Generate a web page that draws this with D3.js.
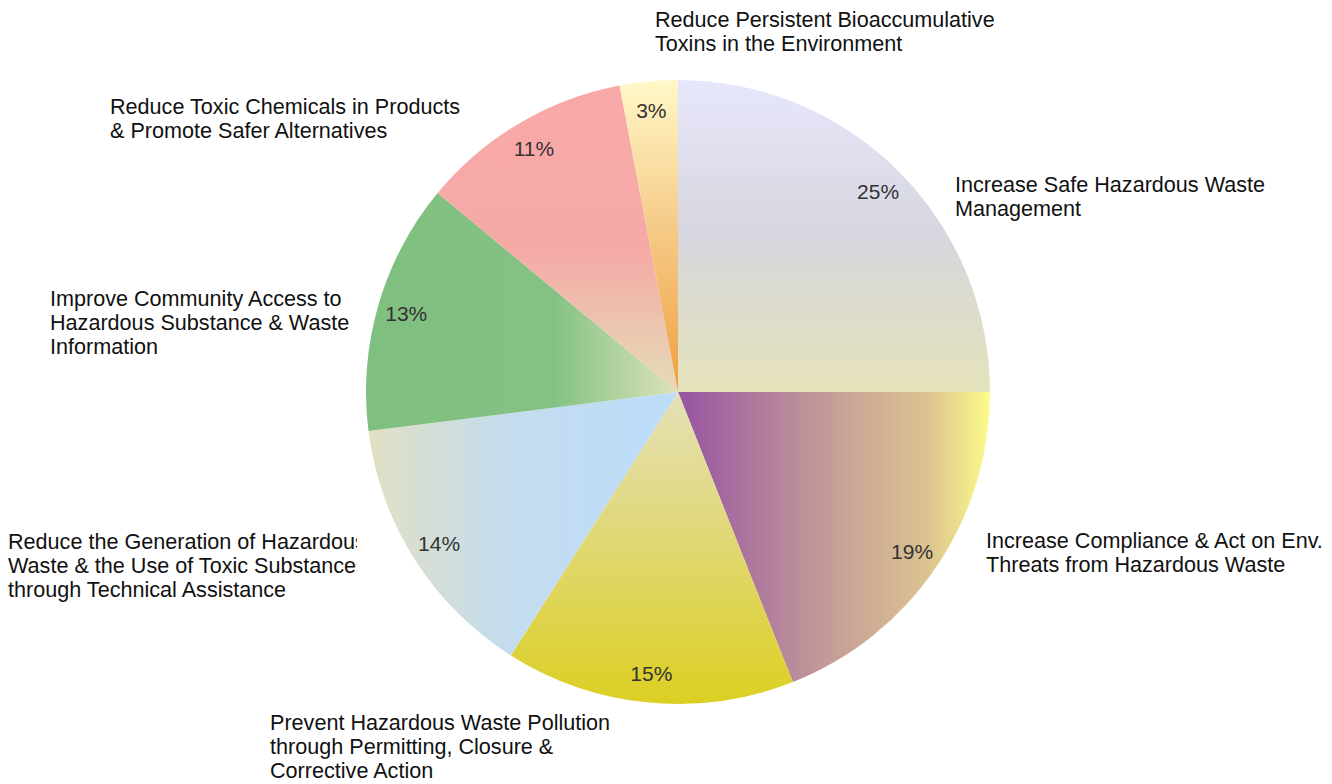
<!DOCTYPE html>
<html>
<head>
<meta charset="utf-8">
<script src="https://cdn.jsdelivr.net/npm/d3@7"></script>
<style>
  html, body { margin: 0; padding: 0; background: #ffffff; }
  svg { display: block; }
  text { font-family: "Liberation Sans", Arial, Helvetica, sans-serif; }
</style>
</head>
<body>
<svg id="chart" width="1332" height="784"></svg>
<script>
// Program share by objective (percent), clockwise from 12 o'clock
const categories = [
  "Increase Safe Hazardous Waste Management",
  "Increase Compliance & Act on Env. Threats from Hazardous Waste",
  "Prevent Hazardous Waste Pollution through Permitting, Closure & Corrective Action",
  "Reduce the Generation of Hazardous Waste & the Use of Toxic Substances through Technical Assistance",
  "Improve Community Access to Hazardous Substance & Waste Information",
  "Reduce Toxic Chemicals in Products & Promote Safer Alternatives",
  "Reduce Persistent Bioaccumulative Toxins in the Environment"
];
const shares = [25, 19, 15, 14, 13, 11, 3];
const shareLabels = ["25%", "19%", "15%", "14%", "13%", "11%", "3%"];

// Wrapped lines of each category label, same order as categories
const labelLines = [
  ["Increase Safe Hazardous Waste", "Management"],
  ["Increase Compliance & Act on Env.", "Threats from Hazardous Waste"],
  ["Prevent Hazardous Waste Pollution", "through Permitting, Closure &", "Corrective Action"],
  ["Reduce the Generation of Hazardous", "Waste & the Use of Toxic Substances", "through Technical Assistance"],
  ["Improve Community Access to", "Hazardous Substance & Waste", "Information"],
  ["Reduce Toxic Chemicals in Products", "& Promote Safer Alternatives"],
  ["Reduce Persistent Bioaccumulative", "Toxins in the Environment"]
];

// ---- layout & style ----
const cx = 678, cy = 392, R = 312;
const labelRadius = 283;
const lineGap = 24;
const fontSize = 21.6;
// anchor (left x, first baseline y) of each category label block
const labelAnchors = [
  [955, 192], [986, 548], [270, 730], [8, 549], [50, 306], [110, 114], [655, 27]
];

// gradient fills: direction in pie-local coordinates and colour stops
const fills = [
  { x1: 0, y1: -R, x2: 0, y2: 0,
    stops: [[0, "#e7e7fc"], [0.5, "#d6d6de"], [1, "#e5e3ba"]] },
  { x1: 10, y1: 0, x2: R, y2: 0,
    stops: [[0, "#9a58a2"], [0.45, "#c39a98"], [0.8, "#dcc490"], [1, "#fcfc8a"]] },
  { x1: 0, y1: 0, x2: 0, y2: R,
    stops: [[0, "#e4e1b8"], [0.45, "#e0d878"], [1, "#dccf22"]] },
  { x1: -R, y1: 0, x2: 0, y2: 0,
    stops: [[0, "#e2e0c2"], [0.45, "#c4dcee"], [1, "#bcdcfa"]] },
  { x1: -R, y1: 0, x2: 0, y2: 0,
    stops: [[0, "#7fbf7f"], [0.6, "#84c284"], [1, "#dde2b8"]] },
  { x1: 0, y1: -R, x2: 0, y2: 0,
    stops: [[0, "#f9a8a8"], [0.55, "#f5aaa6"], [1, "#e4dcb8"]] },
  { x1: 0, y1: -R, x2: 0, y2: 0,
    stops: [[0, "#fff8c8"], [0.5, "#f5c884"], [1, "#efa040"]] }
];

const svg = d3.select("#chart");
const defs = svg.append("defs");

fills.forEach((f, i) => {
  const g = defs.append("linearGradient")
    .attr("id", "fill" + i)
    .attr("gradientUnits", "userSpaceOnUse")
    .attr("x1", f.x1).attr("y1", f.y1)
    .attr("x2", f.x2).attr("y2", f.y2);
  f.stops.forEach(s => g.append("stop").attr("offset", s[0]).attr("stop-color", s[1]));
});

// the long left-hand label is cut off where the plot area begins
defs.append("clipPath").attr("id", "leftClip")
  .append("rect").attr("x", 0).attr("y", 0).attr("width", 357).attr("height", 784);

const pie = d3.pie().sort(null).value(d => d)
  .startAngle(0).endAngle(2 * Math.PI);
const arcs = pie(shares);
const arc = d3.arc().innerRadius(0).outerRadius(R);
const labelArc = d3.arc().innerRadius(labelRadius).outerRadius(labelRadius);

const g = svg.append("g").attr("transform", `translate(${cx},${cy})`);

g.selectAll("path.slice")
  .data(arcs)
  .join("path")
  .attr("class", "slice")
  .attr("d", arc)
  .attr("fill", (d, i) => `url(#fill${i})`);

g.selectAll("text.pct")
  .data(arcs)
  .join("text")
  .attr("class", "pct")
  .attr("transform", d => `translate(${labelArc.centroid(d)})`)
  .attr("text-anchor", "middle")
  .attr("dy", "0.36em")
  .attr("font-size", 21)
  .attr("fill", "#333333")
  .text((d, i) => shareLabels[i]);

// category labels
const labels = svg.append("g");
labelLines.forEach((lines, i) => {
  const [lx, ly] = labelAnchors[i];
  const t = labels.append("text")
    .attr("x", lx).attr("y", ly)
    .attr("font-size", fontSize)
    .attr("fill", "#111111");
  if (i === 3) t.attr("clip-path", "url(#leftClip)");
  lines.forEach((line, k) => {
    t.append("tspan").attr("x", lx).attr("y", ly + k * lineGap).text(line);
  });
});
</script>
</body>
</html>
